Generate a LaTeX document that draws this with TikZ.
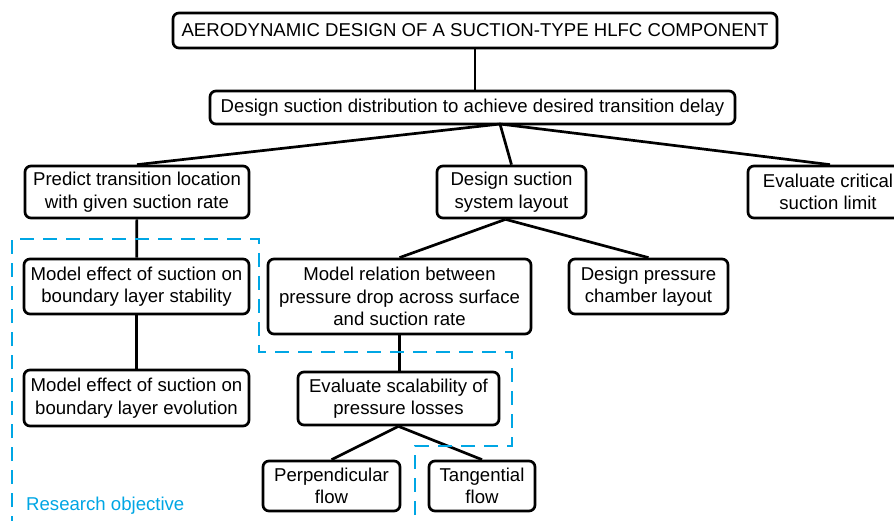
\documentclass[tikz,border=0pt]{standalone}
\usepackage{fontspec}
\setmainfont{Liberation Sans}
\begin{document}
\begin{tikzpicture}[x=1pt,y=-1pt,
  box/.style={draw, line width=2.7pt, rounded corners=6pt, align=center,
    inner sep=0pt, font=\fontsize{18.6}{22.5}\selectfont},
  link/.style={line width=2.7pt},
  objective/.style={draw=objblue, line width=2.8pt, dash pattern=on 14pt off 9pt}]
\definecolor{objblue}{RGB}{0,166,228}
\clip (0,0) rectangle (894,521);
\useasboundingbox (0,0) rectangle (894,521);

% tree of tasks
\node[box, minimum width=604, minimum height=35] (top) at (475,30.5)
  {AERODYNAMIC DESIGN OF A SUCTION-TYPE HLFC COMPONENT};
\node[box, minimum width=525, minimum height=33] (dist) at (472.5,107.5)
  {Design suction distribution to achieve desired transition delay};
\node[box, minimum width=224, minimum height=52] (pred) at (137,192)
  {Predict transition location\\with given suction rate};
\node[box, minimum width=149, minimum height=52] (sys) at (511.5,192)
  {Design suction\\system layout};
\node[box, minimum width=160, minimum height=52] (crit) at (828,192)
  {Evaluate critical\\suction limit};
\node[box, minimum width=225, minimum height=55] (stab) at (136.5,286.5)
  {Model effect of suction on\\boundary layer stability};
\node[box, minimum width=225, minimum height=56] (evol) at (136.5,398)
  {Model effect of suction on\\boundary layer evolution};
\node[box, minimum width=263, minimum height=75] (rel) at (399.5,296.5)
  {Model relation between\\pressure drop across surface\\and suction rate};
\node[box, minimum width=159, minimum height=55] (cham) at (648.5,286.5)
  {Design pressure\\chamber layout};
\node[box, minimum width=201, minimum height=53] (scal) at (398.5,398.5)
  {Evaluate scalability of\\pressure losses};
\node[box, minimum width=137, minimum height=50] (perp) at (331.5,486)
  {Perpendicular\\flow};
\node[box, minimum width=106, minimum height=50] (tang) at (482,486)
  {Tangential\\flow};

% connectors
\coordinate (fan) at (500,124);
\draw[link] (top) -- (top |- dist.north);
\draw[link] (fan) -- (pred.north);
\draw[link] (fan) -- (sys.north);
\draw[link] (fan) -- ([xshift=2pt]crit.north);
\draw[link] (pred) -- (stab);
\draw[link] (stab) -- (evol);
\draw[link] ([xshift=-6pt]sys.south) -- (rel.north);
\draw[link] ([xshift=-6pt]sys.south) -- (cham.north);
\draw[link] (rel.south) -- (rel.south |- scal.north);
\draw[link] (scal.south) -- (perp.north);
\draw[link] (scal.south) -- (tang.north);

% research objective boundary
\coordinate (o1) at (12,530);
\coordinate (o2) at (12,239);
\coordinate (o3) at (259,239);
\coordinate (o4) at (259,352);
\coordinate (o5) at (512,352);
\coordinate (o6) at (512,446);
\coordinate (o7) at (415,446);
\coordinate (o8) at (415,530);
\draw[objective] (o1) -- (o2) -- (o3) -- (o4) -- (o5) -- (o6) -- (o7) -- (o8);
\node[anchor=base west, text=objblue, inner sep=0pt,
  font=\fontsize{18.6}{22.5}\selectfont] (objlabel) at (26,510) {Research objective};
\end{tikzpicture}
\end{document}
